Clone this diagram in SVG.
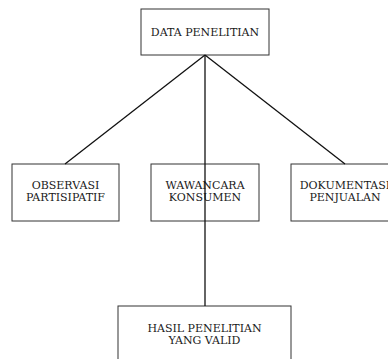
<svg xmlns="http://www.w3.org/2000/svg" width="388" height="359" viewBox="0 0 388 359">
<style>
.box{fill:#fff;stroke:#333;stroke-width:1}
.t{font-family:"DejaVu Serif",serif;font-size:11px;fill:#1a1a1a;text-anchor:middle}
.c{stroke:#111;stroke-width:1.3;fill:none}
</style>
<rect width="388" height="359" fill="#fff"/>
<g id="data-penelitian"><rect class="box" x="141" y="9" width="128" height="46"/><text class="t" x="205" y="36">DATA PENELITIAN</text></g>
<g id="observasi"><rect class="box" x="12" y="164" width="107" height="57"/><text class="t" x="65.5" y="189">OBSERVASI</text><text class="t" x="65.5" y="201">PARTISIPATIF</text></g>
<g id="wawancara"><rect class="box" x="151" y="164" width="108" height="57"/><text class="t" x="205" y="189">WAWANCARA</text><text class="t" x="205" y="201">KONSUMEN</text></g>
<g id="dokumentasi"><rect class="box" x="291" y="164" width="108" height="57"/><text class="t" x="345" y="189">DOKUMENTASI</text><text class="t" x="345" y="201">PENJUALAN</text></g>
<g id="hasil"><rect class="box" x="118" y="306" width="173" height="60"/><text class="t" x="204.5" y="332">HASIL PENELITIAN</text><text class="t" x="204.5" y="344">YANG VALID</text></g>
<g id="connectors">
<line class="c" x1="205" y1="55" x2="65" y2="164"/>
<line class="c" x1="205" y1="55" x2="205" y2="306"/>
<line class="c" x1="205" y1="55" x2="345" y2="164"/>
</g>
</svg>
